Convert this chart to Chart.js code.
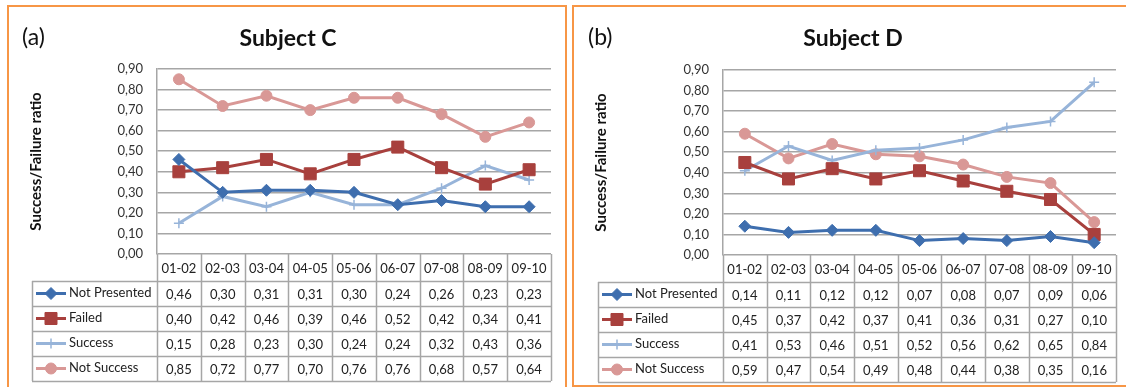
<!DOCTYPE html>
<html lang="en">
<head>
  <meta charset="UTF-8">
  <title>Subject C / Subject D</title>
  <script src="https://cdn.jsdelivr.net/npm/chart.js"></script>
  <style>
    body { margin: 0; background: #fff; width: 1126px; height: 387px; overflow: hidden; position: relative; font-family: Lato, sans-serif; }
    .panel { position: absolute; box-sizing: border-box; border: 2px solid #f79646; }
    #panelC { left: 7px; top: 5px; width: 560px; height: 400px; }
    #panelD { left: 572px; top: 5px; width: 600px; height: 382px; }
    canvas { position: absolute; }
    #chartC { left: 9px; top: 8px; }
    #chartD { left: 574px; top: 8px; }
    .tag { position: absolute; font-size: 23px; line-height: 28px; color: #111; }
    .title { position: absolute; width: 200px; text-align: center; font-weight: bold; font-size: 23px; line-height: 28px; color: #111; }
  </style>
</head>
<body>
  <div class="panel" id="panelC"></div>
  <div class="panel" id="panelD"></div>
  <canvas id="chartC" width="556" height="379"></canvas>
  <canvas id="chartD" width="552" height="377"></canvas>
  <div class="tag" style="left:22px; top:22px;">(a)</div>
  <div class="title" style="left:188px; top:23px;">Subject C</div>
  <div class="tag" style="left:588px; top:22px;">(b)</div>
  <div class="title" style="left:753px; top:23px;">Subject D</div>

<script>
// school years on the x axis
const categories = ['01-02', '02-03', '03-04', '04-05', '05-06', '06-07', '07-08', '08-09', '09-10'];
const seriesNames = ['Not Presented', 'Failed', 'Success', 'Not Success'];

// Subject C
const cNotPresented = [0.46, 0.30, 0.31, 0.31, 0.30, 0.24, 0.26, 0.23, 0.23];
const cFailed       = [0.40, 0.42, 0.46, 0.39, 0.46, 0.52, 0.42, 0.34, 0.41];
const cSuccess      = [0.15, 0.28, 0.23, 0.30, 0.24, 0.24, 0.32, 0.43, 0.36];
const cNotSuccess   = [0.85, 0.72, 0.77, 0.70, 0.76, 0.76, 0.68, 0.57, 0.64];

// Subject D
const dNotPresented = [0.14, 0.11, 0.12, 0.12, 0.07, 0.08, 0.07, 0.09, 0.06];
const dFailed       = [0.45, 0.37, 0.42, 0.37, 0.41, 0.36, 0.31, 0.27, 0.10];
const dSuccess      = [0.41, 0.53, 0.46, 0.51, 0.52, 0.56, 0.62, 0.65, 0.84];
const dNotSuccess   = [0.59, 0.47, 0.54, 0.49, 0.48, 0.44, 0.38, 0.35, 0.16];

const yMin = 0, yMax = 0.9, yStep = 0.1;

// look of each series (same order as seriesNames)
const styles = [
  { color: '#3e6eae', point: 'rectRot', radius: 6, pw: 1 },
  { color: '#a8403d', point: 'rect', radius: 8.5, pw: 1 },
  { color: '#97b4d9', point: 'cross', radius: 5, pw: 1.5 },
  { color: '#d99896', point: 'circle', radius: 5.5, pw: 1 }
];

const fmt = v => v.toFixed(2).replace('.', ',');
const FONT = 'Lato, sans-serif';

function drawMarker(ctx, st, x, y) {
  if (Chart.helpers && Chart.helpers.drawPoint) {
    ctx.fillStyle = st.color;
    ctx.strokeStyle = st.color;
    ctx.lineWidth = st.pw;
    Chart.helpers.drawPoint(ctx, { pointStyle: st.point, radius: st.radius, rotation: 0, borderWidth: st.pw }, x, y);
  }
}

// draws the category row and the data table under the plot
const tablePlugin = {
  id: 'dataTable',
  afterDraw(chart, args, opts) {
    const ctx = chart.ctx;
    const xs = chart.scales.x;
    const area = chart.chartArea;
    const n = categories.length;
    const colW = (area.right - area.left) / n;
    const catTop = area.bottom;
    const rowTop = catTop + opts.catH;
    const rowH = opts.rowH;
    const bottom = rowTop + rowH * chart.data.datasets.length;
    const legL = opts.legendLeft;

    ctx.save();
    ctx.strokeStyle = '#a6a6a6';
    ctx.lineWidth = 1.5;
    ctx.beginPath();
    for (let i = 0; i <= n; i++) {
      const X = Math.round(area.left + i * colW) + 0.5;
      ctx.moveTo(X, catTop);
      ctx.lineTo(X, bottom);
    }
    ctx.moveTo(legL + 0.5, rowTop);
    ctx.lineTo(legL + 0.5, bottom);
    for (let j = 0; j <= chart.data.datasets.length; j++) {
      const Y = Math.round(rowTop + j * rowH) + 0.5;
      ctx.moveTo(legL, Y);
      ctx.lineTo(area.right, Y);
    }
    ctx.stroke();

    ctx.fillStyle = '#222';
    ctx.font = '13px ' + FONT;
    ctx.textAlign = 'center';
    ctx.textBaseline = 'middle';
    categories.forEach((c, i) => ctx.fillText(c, xs.getPixelForValue(i), catTop + opts.catH / 2 + 1));

    chart.data.datasets.forEach((ds, j) => {
      const cy = rowTop + rowH * j + rowH / 2;
      const st = styles[j];
      ctx.strokeStyle = st.color;
      ctx.lineWidth = 3;
      ctx.beginPath();
      ctx.moveTo(legL + 4, cy);
      ctx.lineTo(legL + 34, cy);
      ctx.stroke();
      drawMarker(ctx, st, legL + 19, cy);
      ctx.fillStyle = '#222';
      ctx.textAlign = 'left';
      ctx.fillText(ds.label, legL + 37, cy - 1);
      ctx.textAlign = 'center';
      ds.data.forEach((v, i) => ctx.fillText(fmt(v), xs.getPixelForValue(i), cy + 1));
    });
    ctx.restore();
  }
};

function makeChart(id, series, pad, legendLeft) {
  return new Chart(document.getElementById(id), {
    type: 'line',
    data: {
      labels: categories,
      datasets: series.map((d, j) => ({
        label: seriesNames[j],
        data: d,
        borderColor: styles[j].color,
        backgroundColor: styles[j].color,
        pointBackgroundColor: styles[j].color,
        pointBorderColor: styles[j].color,
        pointStyle: styles[j].point,
        pointRadius: styles[j].radius,
        pointBorderWidth: styles[j].pw,
        borderWidth: 3,
        tension: 0,
        fill: false
      }))
    },
    options: {
      responsive: false,
      animation: false,
      layout: { padding: { left: 0, top: pad.top, right: pad.right, bottom: pad.bottom } },
      plugins: {
        legend: { display: false },
        tooltip: { enabled: false },
        dataTable: { catH: 27, rowH: 25, legendLeft: legendLeft }
      },
      scales: {
        x: { type: 'category', offset: true, display: false },
        y: {
          min: yMin, max: yMax,
          afterFit: s => { s.width = pad.left; },
          border: { display: true, color: '#a6a6a6', width: 1.5 },
          grid: { color: '#a6a6a6', lineWidth: 1.5, drawTicks: false },
          ticks: {
            stepSize: yStep, padding: 14,
            color: '#333', font: { family: FONT, size: 13 },
            callback: v => fmt(v)
          },
          title: {
            display: true, text: 'Success/Failure ratio',
            color: '#111', font: { family: FONT, size: 15, weight: 'bold' },
            padding: { top: 18, bottom: 0 }
          }
        }
      }
    },
    plugins: [tablePlugin]
  });
}

makeChart('chartC', [cNotPresented, cFailed, cSuccess, cNotSuccess],
  { left: 148, top: 61, right: 14, bottom: 133 }, 23);
makeChart('chartD', [dNotPresented, dFailed, dSuccess, dNotSuccess],
  { left: 149, top: 62, right: 10, bottom: 130 }, 24);
</script>
</body>
</html>
